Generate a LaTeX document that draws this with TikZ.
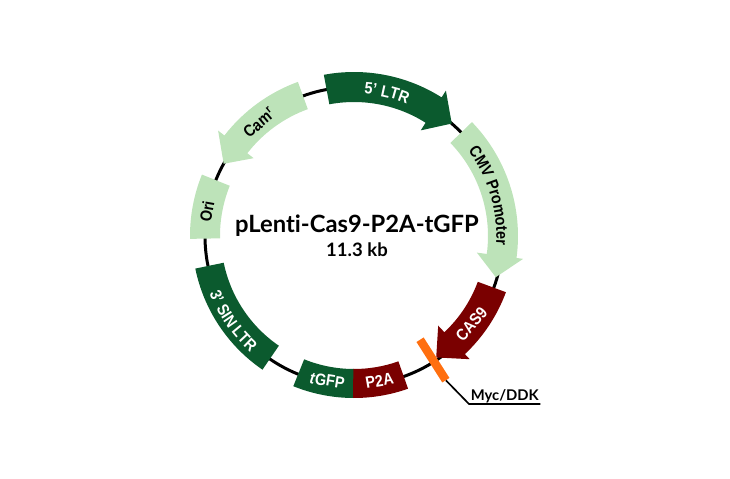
\documentclass[tikz,border=0pt]{standalone}
\usepackage{fontspec}
\setmainfont[FakeStretch=0.88]{Liberation Sans}
\newfontfamily\titlefont[Ligatures=NoCommon]{Lato}
\usetikzlibrary{decorations.text,positioning}
\definecolor{ltrgreen}{HTML}{0B5A2E}
\definecolor{palegreen}{HTML}{BDE3B9}
\definecolor{casred}{HTML}{7A0000}
\definecolor{mycorange}{HTML}{FF6F0F}
\newcommand{\labelfont}{\fontsize{14}{16}\selectfont\bfseries}
\tikzset{
	whitelabel/.style={text=white,font=\labelfont,inner sep=0pt},
	blacklabel/.style={text=black,font=\labelfont,inner sep=0pt},
	arcwhite/.style={decorate,decoration={text along path,text align=center,text={|\labelfont\color{white}|#1}}},
	arcblack/.style={decorate,decoration={text along path,text align=center,text={|\labelfont\color{black}|#1}}}
}
\begin{document}
\begin{tikzpicture}
		\useasboundingbox (-10.62,-7.26) rectangle (11.28,7.08);
		\draw [black,line width=0.09cm] (0,0) circle (4.47);
		
		%----------------------------------------------------------------
		\fill [ltrgreen] (100.6:4.92) arc (100.6:57.7:4.92) -- (57.7:5.16) -- (49:4.47) -- (57.7:3.75) -- (57.7:4.02) arc (57.7:100.6:4.02) -- cycle;
		\fill [palegreen] (44:4.92) arc (44:-7.7:4.92) -- (-7.7:5.12) -- (-16.2:4.43) -- (-7.7:3.72) -- (-7.7:4.02) arc (-7.7:44:4.02) -- cycle;
		\fill [casred] (-20.3:4.86) arc (-20.3:-46.8:4.86) -- (-46.8:5.07) -- (-55.9:4.40) -- (-46.8:3.69) -- (-46.8:3.96) arc (-46.8:-20.3:3.96) -- cycle;
		\fill [palegreen] (110:4.92) arc (110:142.2:4.92) -- (142.2:5.16) -- (151:4.47) -- (142.2:3.81) -- (142.2:4.05) arc (142.2:110:4.05) -- cycle;
		
		\fill [palegreen] (158:4.92) arc (158:181:4.92) -- (181:4.02) arc (181:158:4.02) -- cycle;
		\fill [ltrgreen] (191.6:4.86) arc (191.6:235.6:4.86) -- (235.6:3.99) arc (235.6:191.6:3.99) -- cycle;
		\fill [ltrgreen] (248:4.86) arc (248:270:4.86) -- (270:3.99) arc (270:248:3.99) -- cycle;
		\fill [casred] (269.7:4.86) arc (269.7:289.5:4.86) -- (289.5:3.99) arc (289.5:269.7:3.99) -- cycle;
		
		%----------------------------------------------------------------
		\path [arcwhite={5' LTR}] (107:4.27) arc (107:47:4.27);
		\path [arcblack={CMV Promoter}] (46.5:4.27) arc (46.5:-13.5:4.27);
		\path [arcwhite={3' SIN LTR}] (185:4.67) arc (185:245:4.67);
		
		\node (cam) [blacklabel,rotate=40] at (130:4.44) {Cam\textsuperscript{r}};
		\node (ori) [blacklabel,rotate=80] at (170.6:4.47) {Ori};
		\node (cas) [whitelabel,rotate=49] at (-37:4.41) {CAS9};
		\node (tgfp) [whitelabel,rotate=-9] at (259.5:4.41) {\textit{t}GFP};
		\node (ptwoa) [whitelabel,rotate=10] at (280:4.41) {P2A};
		
		%----------------------------------------------------------
		\node (mycbar) [fill=mycorange,rotate=-57.5,minimum width=1.44cm,minimum height=0.255cm,inner sep=0pt] at (-57.5:4.41) {};
		\node (myclabel) [font=\titlefont\fontsize{12.6}{14}\selectfont\bfseries,anchor=south west,minimum width=2.13cm,inner sep=1pt] at (3.45,-5.04) {Myc/DDK};
		\draw [black,line width=0.05cm] (mycbar.east) -- (myclabel.south west) -- (myclabel.south east);
		
		%----------------------------------------------------------
		\node (title) [font=\titlefont\fontsize{20.3}{24}\selectfont\bfseries,inner sep=0pt] at (0.09,0.31) {pLenti-Cas9-P2A-tGFP};
		\node (size) [font=\titlefont\fontsize{15.8}{18}\selectfont\bfseries,inner sep=0pt,below=0.17cm of title] {11.3 kb};
		
	\end{tikzpicture}
\end{document}
